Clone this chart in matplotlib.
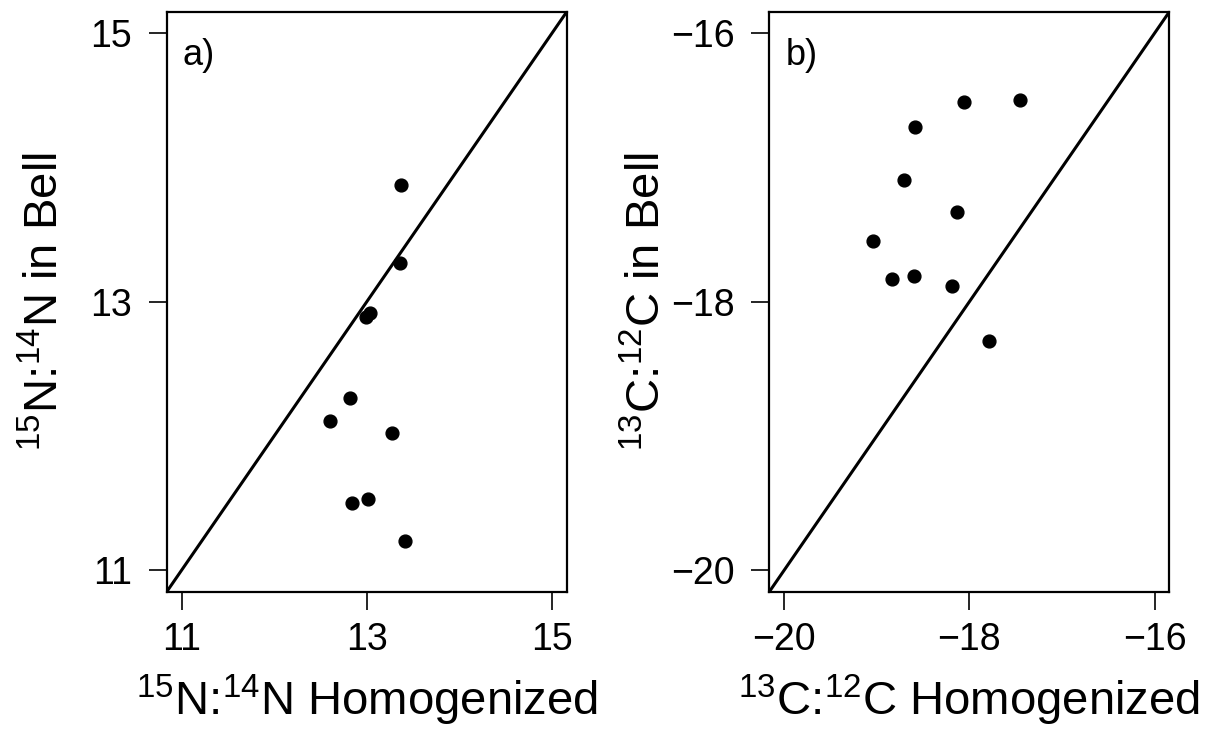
import numpy as np
import matplotlib
matplotlib.use("Agg")
import matplotlib.pyplot as plt

plt.rcParams['font.family'] = ['Liberation Sans', 'DejaVu Sans']
plt.rcParams['mathtext.fontset'] = 'custom'
plt.rcParams['mathtext.rm'] = 'Liberation Sans'
plt.rcParams['mathtext.it'] = 'Liberation Sans'

# nitrogen: homogenized vs bell
n_homog = [13.37, 13.36, 13.03, 12.99, 12.82, 12.60, 13.27, 13.01, 12.84, 13.41]
n_bell = [13.87, 13.29, 12.92, 12.89, 12.28, 12.11, 12.02, 11.53, 11.50, 11.22]

# carbon: homogenized vs bell
c_homog = [-18.06, -17.45, -18.59, -18.71, -18.13, -19.04, -18.83, -18.60, -18.19, -17.79]
c_bell = [-16.51, -16.50, -16.70, -17.09, -17.33, -17.55, -17.83, -17.81, -17.88, -18.29]

n_ticks = [11, 13, 15]
c_ticks = [-20, -18, -16]

fig = plt.figure(figsize=(12.1, 7.36), dpi=100)
ax1 = fig.add_axes([0.1378, 0.196, 0.3306, 0.788])
ax2 = fig.add_axes([0.6358, 0.196, 0.3306, 0.788])


def panel(ax, x, y, ticks, tag, xlab, ylab):
    lo, hi = ticks[0], ticks[-1]
    pad = 0.04 * (hi - lo)
    ax.set_xlim(lo - pad, hi + pad)
    ax.set_ylim(lo - pad, hi + pad)
    # 1:1 line
    ax.plot([lo - pad, hi + pad], [lo - pad, hi + pad], color='black', lw=2.2,
            solid_capstyle='butt')
    ax.scatter(x, y, s=85, color='black', zorder=3)
    ax.set_xticks(ticks)
    ax.set_yticks(ticks)
    ax.set_xticklabels([str(t).replace('-', '\u2212') for t in ticks])
    ax.set_yticklabels([str(t).replace('-', '\u2212') for t in ticks])
    ax.tick_params(axis='both', length=13, width=1.2, labelsize=27)
    ax.tick_params(axis='x', pad=9)
    ax.tick_params(axis='y', pad=12)
    for sp in ax.spines.values():
        sp.set_linewidth(1.6)
    ax.text(0.04, 0.955, tag, transform=ax.transAxes, fontsize=26,
            va='top', ha='left')
    ax.set_xlabel(xlab, fontsize=34)
    ax.set_ylabel(ylab, fontsize=34)
    # fixed label lines, like R's mgp
    ax.xaxis.set_label_coords(0.5, -0.14)
    ax.yaxis.set_label_coords(-0.247, 0.5)


panel(ax1, n_homog, n_bell, n_ticks, 'a)',
      r'$^{15}$N:$^{14}$N Homogenized', r'$^{15}$N:$^{14}$N in Bell')
panel(ax2, c_homog, c_bell, c_ticks, 'b)',
      r'$^{13}$C:$^{12}$C Homogenized', r'$^{13}$C:$^{12}$C in Bell')

fig.savefig('out.png', dpi=100)
